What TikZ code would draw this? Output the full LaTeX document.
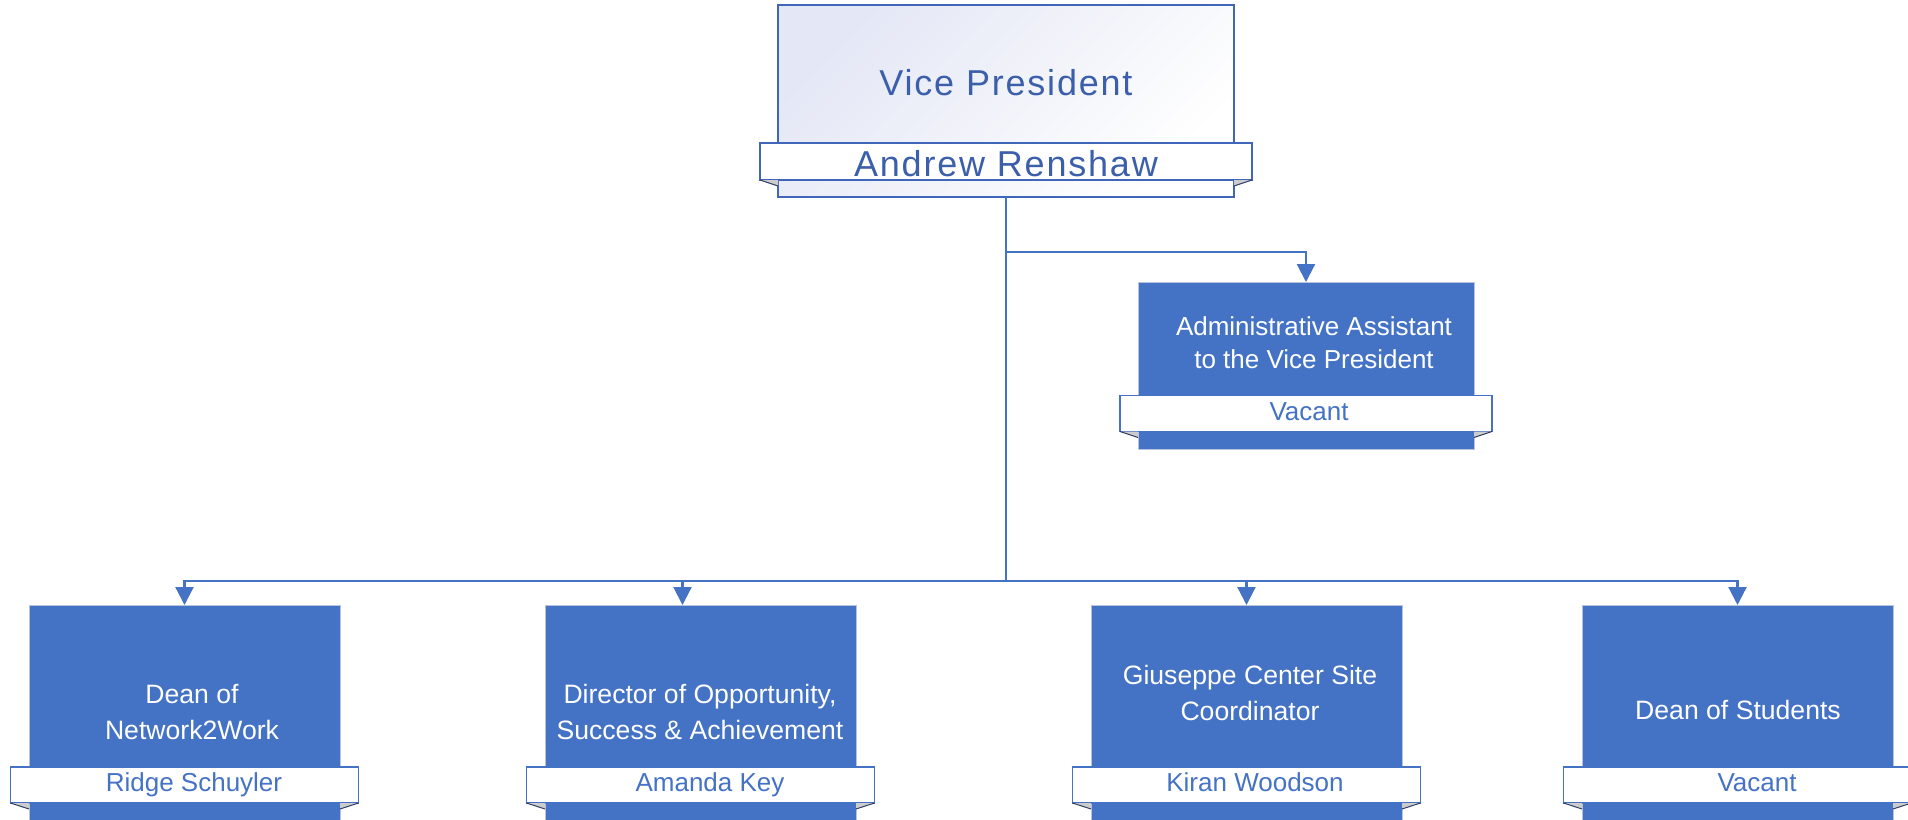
\documentclass[tikz,border=0pt]{standalone}
\usepackage{fontspec}
\setmainfont{Liberation Sans}
\usetikzlibrary{arrows.meta}
\definecolor{blu}{HTML}{4472C4}
\definecolor{vpt}{HTML}{3B5FAA}
\definecolor{vpline}{HTML}{3F66B8}
\definecolor{vpg}{HTML}{E4E7F5}
\definecolor{edg}{HTML}{B8C4DC}
\definecolor{foldc}{HTML}{CCCCCC}
\definecolor{folde}{HTML}{2F3F6A}
\begin{document}
\begin{tikzpicture}[x=0.5pt,y=-0.5pt,
  every node/.style={inner sep=0pt,outer sep=0pt},
  conn/.style={draw=blu,line width=1.1pt},
  arr/.style={conn,-{Triangle[width=9pt,length=9pt]}},
  vpbox/.style={draw=vpline,line width=1pt,top color=vpg,bottom color=white,shading angle=45,
    minimum width=228pt,minimum height=96pt},
  vpbanner/.style={draw=vpline,line width=1pt,fill=white,minimum width=246pt,minimum height=18.5pt},
  vptext/.style={text=vpt,font=\fontsize{18}{22}\selectfont\addfontfeature{LetterSpace=5}},
  aabox/.style={draw=edg,line width=0.5pt,fill=blu,minimum width=168pt,minimum height=83.5pt},
  lowbox/.style={draw=edg,line width=0.5pt,fill=blu,minimum width=155.5pt,minimum height=107.5pt},
  banner/.style={draw=blu,line width=0.6pt,fill=white,minimum height=18pt},
  boxtext/.style={text=white,align=center,font=\fontsize{13}{16.5}\selectfont},
  lowtext/.style={boxtext,font=\fontsize{13.3}{17.8}\selectfont},
  nametext/.style={text=blu,font=\fontsize{13}{16.5}\selectfont,text height=0.7em,text depth=0.2em}
]
\useasboundingbox (0,0) rectangle (1908,820);
\clip (0,0) rectangle (1908,820);

% boxes
\node[vpbox] (vp) at (1006,101) {};
\node[aabox] (aa) at (1306,365.5) {};
\node[lowbox] (b1) at (184.5,712.5) {};
\node[lowbox] (b2) at (700.5,712.5) {};
\node[lowbox] (b3) at (1246.5,712.5) {};
\node[lowbox] (b4) at (1737.5,712.5) {};

% banners
\node[vpbanner] (vpn) at (1006,161.5) {};
\node[banner,minimum width=186pt] (aan) at (1306,413.5) {};
\node[banner,minimum width=174pt] (n1) at (184.5,785) {};
\node[banner,minimum width=174pt] (n2) at (700.5,785) {};
\node[banner,minimum width=174pt] (n3) at (1246.5,785) {};
\node[banner,minimum width=174pt] (n4) at (1737.5,785) {};

% folds
\foreach \bx/\bn in {vp/vpn,aa/aan,b1/n1,b2/n2,b3/n3,b4/n4}{
  \fill[foldc] (\bn.south west) -- (\bx.west |- \bn.south) -- ([yshift=-3pt]\bx.west |- \bn.south) -- cycle;
  \draw[folde,line width=0.5pt] (\bn.south west) -- ([yshift=-3pt]\bx.west |- \bn.south);
  \fill[foldc] (\bn.south east) -- (\bx.east |- \bn.south) -- ([yshift=-3pt]\bx.east |- \bn.south) -- cycle;
  \draw[folde,line width=0.5pt] (\bn.south east) -- ([yshift=-3pt]\bx.east |- \bn.south);
}

% texts
\node[vptext] (vpt) at (1006,82.5) {Vice President};
\node[vptext] (vpnt) at (1006,164) {Andrew Renshaw};
\node[boxtext] (aat) at (1314,343) {Administrative Assistant\\to the Vice President};
\node[nametext] (aant) at (1309,415) {Vacant};
\node[lowtext] (t1) at (192,712) {Dean of\\Network2Work};
\node[lowtext] (t2) at (700,712) {Director of Opportunity,\\Success \& Achievement};
\node[lowtext] (t3) at (1250,693) {Giuseppe Center Site\\Coordinator};
\node[lowtext] (t4) at (1738,710) {Dean of Students};
\node[nametext] (n1t) at (194,786) {Ridge Schuyler};
\node[nametext] (n2t) at (710,786) {Amanda Key};
\node[nametext] (n3t) at (1255,786) {Kiran Woodson};
\node[nametext] (n4t) at (1757,786) {Vacant};

% connectors
\coordinate (br) at (1006,252);
\coordinate (bus) at (1006,581);
\draw[conn] (vp.south) -- (bus);
\draw[arr] (br) -| (aa.north);
\draw[arr] (bus) -| (b1.north);
\draw[arr] (bus) -| ([xshift=-9pt]b2.north);
\draw[arr] (bus) -| (b3.north);
\draw[arr] (bus) -| (b4.north);
\end{tikzpicture}
\end{document}
